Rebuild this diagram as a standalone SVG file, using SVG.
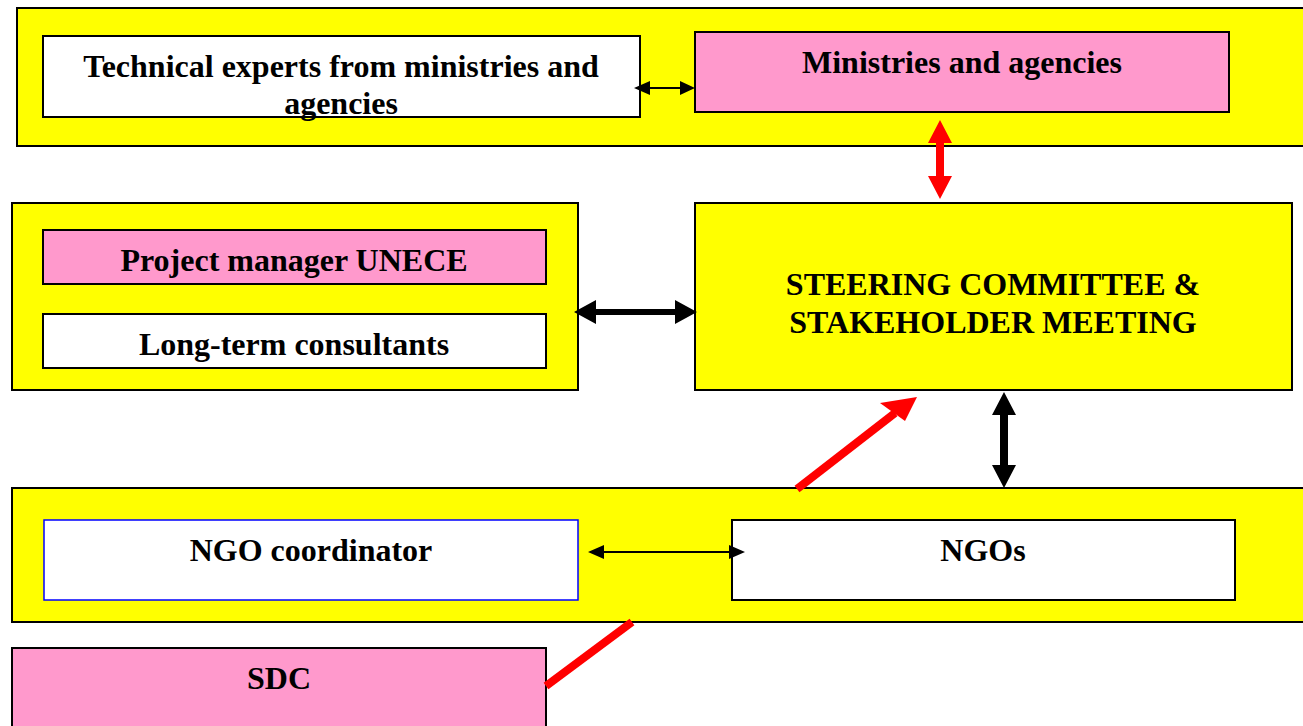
<svg xmlns="http://www.w3.org/2000/svg" width="1303" height="726" viewBox="0 0 1303 726">
<style>
.band{fill:#FFFF00;stroke:#000;stroke-width:2}
.pink{fill:#FF99CC;stroke:#000;stroke-width:2}
.white{fill:#FFFFFF;stroke:#000;stroke-width:2}
.blue{fill:#FFFFFF;stroke:#0000FF;stroke-width:1.5}
.t{font-family:"Liberation Serif","Times New Roman",serif;font-weight:bold;font-size:32px;fill:#000;text-anchor:middle}
.blk{fill:#000}
.red{fill:#FF0000}
</style>
<rect width="1303" height="726" fill="#FFFFFF"/>
<g id="top-band">
<rect class="band" x="17" y="8" width="1300" height="138"/>
</g>
<g id="technical-experts">
<rect class="white" x="43" y="36" width="597" height="81"/>
<text class="t" x="341" y="77">Technical experts from ministries and</text>
<text class="t" x="341" y="114">agencies</text>
</g>
<g id="ministries">
<rect class="pink" x="695" y="32" width="534" height="80"/>
<text class="t" x="962" y="73">Ministries and agencies</text>
</g>
<g id="left-band">
<rect class="band" x="12" y="203" width="566" height="187"/>
</g>
<g id="project-manager">
<rect class="pink" x="43" y="230" width="503" height="54"/>
<text class="t" x="294" y="271">Project manager UNECE</text>
</g>
<g id="consultants">
<rect class="white" x="43" y="314" width="503" height="54"/>
<text class="t" x="294" y="355">Long-term consultants</text>
</g>
<g id="steering">
<rect class="band" x="695" y="203" width="597" height="187"/>
<text class="t" x="993" y="295">STEERING COMMITTEE &amp;</text>
<text class="t" x="993" y="333">STAKEHOLDER MEETING</text>
</g>
<g id="ngo-band">
<rect class="band" x="12" y="488" width="1300" height="134"/>
</g>
<g id="ngo-coordinator">
<rect class="blue" x="44" y="520" width="534" height="80"/>
<text class="t" x="311" y="561">NGO coordinator</text>
</g>
<g id="ngos">
<rect class="white" x="732" y="520" width="503" height="80"/>
<text class="t" x="983" y="561">NGOs</text>
</g>
<g id="sdc">
<rect class="pink" x="12" y="648" width="534" height="90"/>
<text class="t" x="279" y="689">SDC</text>
</g>
<g id="connectors">
<polygon class="blk" points="634,88 650,81 650,87 680,87 680,81 695,88 680,95 680,89 650,89 650,95"/>
<polygon class="red" points="940,120 952,143 944,143 944,176 952,176 940,199 928,176 936,176 936,143 928,143"/>
<polygon class="blk" points="574,312 596,300 596,309 675,309 675,300 697,312 675,324 675,315 596,315 596,324"/>
<polygon class="blk" points="1004,392 1016,415 1008,415 1008,465 1016,465 1004,488 992,465 1000,465 1000,415 992,415"/>
<polygon class="blk" points="588,552 604,545 604,551 729,551 729,545 745,552 729,559 729,553 604,553 604,559"/>
<line x1="546" y1="686" x2="632" y2="622" stroke="#FF0000" stroke-width="8"/>
<line x1="797" y1="489" x2="895" y2="413" stroke="#FF0000" stroke-width="8"/>
<polygon class="red" points="917,397 905,421 880,403"/>
</g>
</svg>
